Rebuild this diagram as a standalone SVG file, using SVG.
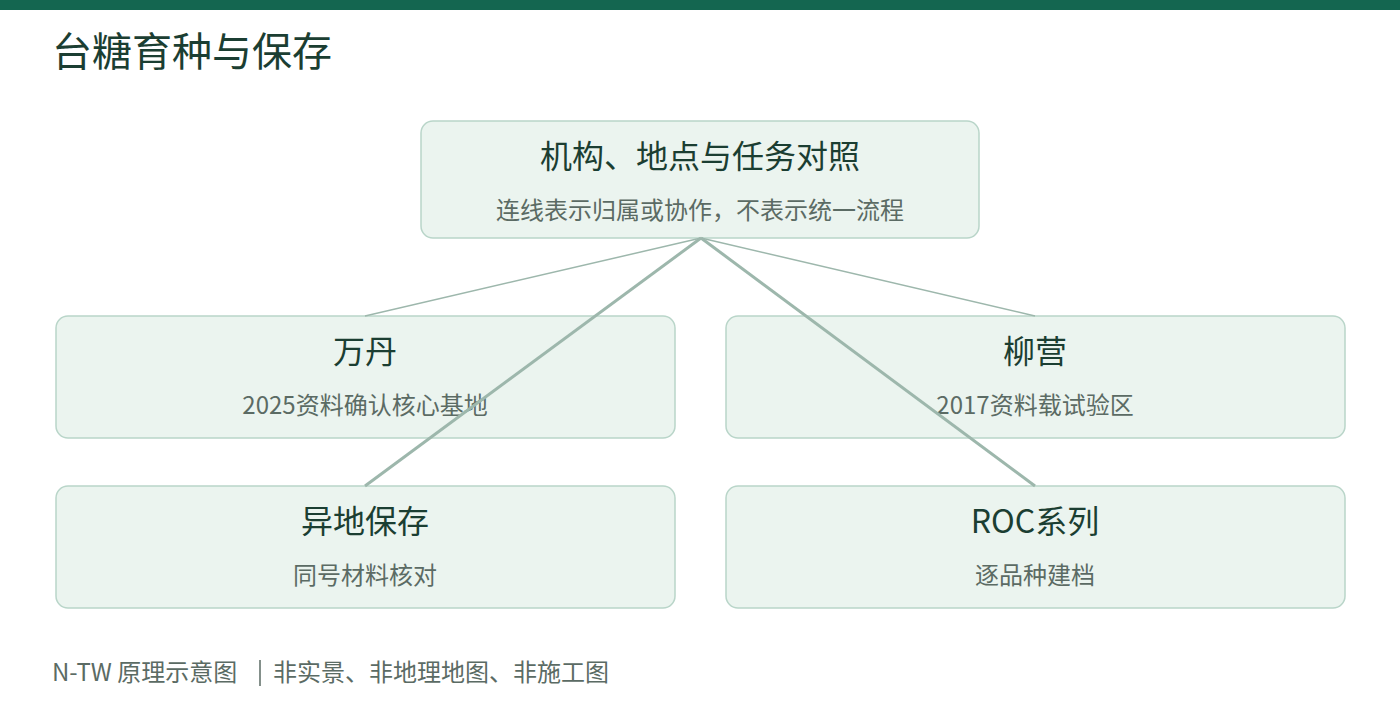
<svg xmlns="http://www.w3.org/2000/svg" width="1400" height="720" viewBox="0 0 1400 720">
<style>
.box{fill:#ebf4ef;stroke:#b9d5c9;stroke-width:1.5}
.t{font-family:"Noto Sans CJK SC","Noto Sans",sans-serif;fill:#1b3e32;text-anchor:middle;font-size:32px}
.s{font-family:"Noto Sans CJK SC","Noto Sans",sans-serif;fill:#5b6b64;text-anchor:middle;font-size:24px}
.c{stroke:#9db7ac;fill:none}
</style>
<rect width="1400" height="720" fill="#ffffff"/>
<rect width="1400" height="10" fill="#146650"/>
<text x="52" y="66" font-family="Noto Sans CJK SC,sans-serif" font-size="40" fill="#1b3e32">台糖育种与保存</text>
<g id="n0"><rect class="box" x="421" y="121" width="558" height="117" rx="12"/><text class="t" x="700" y="168">机构、地点与任务对照</text><text class="s" x="700" y="219">连线表示归属或协作，不表示统一流程</text></g>
<g id="n1"><rect class="box" x="56" y="316" width="619" height="122" rx="12"/><text class="t" x="365" y="363">万丹</text><text class="s" x="365" y="414">2025资料确认核心基地</text></g>
<g id="n2"><rect class="box" x="726" y="316" width="619" height="122" rx="12"/><text class="t" x="1035" y="363">柳营</text><text class="s" x="1035" y="414">2017资料载试验区</text></g>
<g id="n3"><rect class="box" x="56" y="486" width="619" height="122" rx="12"/><text class="t" x="365" y="533">异地保存</text><text class="s" x="365" y="584">同号材料核对</text></g>
<g id="n4"><rect class="box" x="726" y="486" width="619" height="122" rx="12"/><text class="t" x="1035" y="533">ROC系列</text><text class="s" x="1035" y="584">逐品种建档</text></g>
<g id="connectors">
<line class="c" stroke-width="1.5" x1="701" y1="238" x2="365" y2="316"/>
<line class="c" stroke-width="1.5" x1="701" y1="238" x2="1035" y2="316"/>
<line class="c" stroke-width="3" x1="701" y1="238" x2="365" y2="486"/>
<line class="c" stroke-width="3" x1="701" y1="238" x2="1035" y2="486"/>
</g>
<text x="52" y="681" font-family="Noto Sans CJK SC,sans-serif" font-size="24" fill="#5b6b64">N-TW  原理示意图</text>
<line x1="260" y1="660" x2="260" y2="686" stroke="#5b6b64" stroke-width="1.5"/>
<text x="273" y="681" font-family="Noto Sans CJK SC,sans-serif" font-size="24" fill="#5b6b64">非实景、非地理地图、非施工图</text>
</svg>
